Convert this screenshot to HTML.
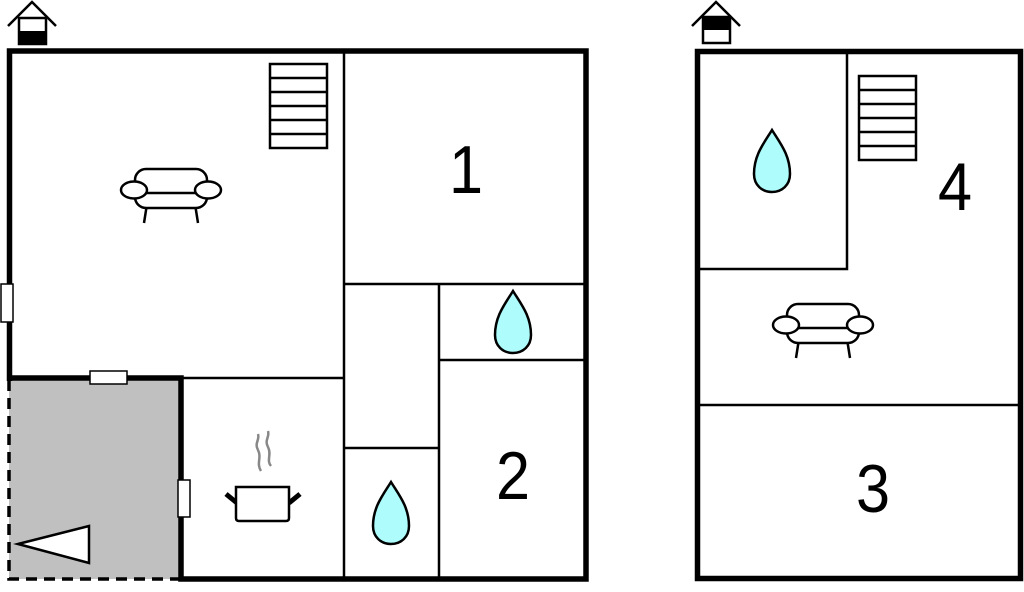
<!DOCTYPE html>
<html><head><meta charset="utf-8"><style>html,body{margin:0;padding:0;background:#fff}svg{display:block}</style></head><body>
<svg width="1024" height="592" viewBox="0 0 1024 592" xmlns="http://www.w3.org/2000/svg">
<defs>
<g id="sofa" fill="#fff" stroke="#000" stroke-width="2.5">
<path d="M-24,14 L-27,33 M24,14 L27,33" fill="none"/>
<rect x="-36" y="-4" width="72" height="22" rx="11"/>
<rect x="-36" y="-21" width="72" height="24" rx="11"/>
<ellipse cx="-37" cy="0" rx="13" ry="8.5"/>
<ellipse cx="37" cy="0" rx="13" ry="8.5"/>
</g>
<g id="drop"><path d="M0,-31 C-8,-18 -18,-6 -18,13 C-18,24 -10,31 0,31 C10,31 18,24 18,13 C18,-6 8,-18 0,-31 Z" fill="#aefcfc" stroke="#000" stroke-width="2.5"/></g>
<g id="stairs" fill="#fff" stroke="#000" stroke-width="2.5">
<rect x="0" y="0" width="57" height="84"/>
<path d="M0,14 H57 M0,28 H57 M0,42 H57 M0,56 H57 M0,70 H57"/>
</g>
</defs>

<rect x="9" y="379" width="172" height="200" fill="#c0c0c0"/>
<path d="M9,380 V579 H181" fill="none" stroke="#000" stroke-width="3.5" stroke-dasharray="11,7"/>
<g fill="none" stroke="#000" stroke-width="2.5">
<path d="M344,51 V579"/>
<path d="M344,284 H586"/>
<path d="M439,284 V579"/>
<path d="M439,360 H586"/>
<path d="M344,448 H439"/>
<path d="M181,378 H344"/>
</g>
<g fill="none" stroke="#000" stroke-width="5.5">
<path d="M9.5,381 V51 H586 V579 H181 V378 H7"/>
</g>
<rect x="1" y="284" width="12" height="38" fill="#fff" stroke="#000" stroke-width="1.5"/>
<rect x="90" y="371" width="37" height="13" fill="#fff" stroke="#000" stroke-width="1.5"/>
<rect x="178" y="480" width="12" height="37" fill="#fff" stroke="#000" stroke-width="1.5"/>
<polygon points="18,544 89,526 89,563" fill="#fff" stroke="#000" stroke-width="2.5"/>

<use href="#stairs" x="270" y="64"/>
<use href="#sofa" x="171" y="190"/>
<use href="#drop" x="391" y="513"/>
<use href="#drop" x="513" y="322"/>

<g stroke="#000" fill="none">
<path d="M258,450 C254,443 260,440 258,434 M258,450 C262,458 256,463 261,471" stroke="#888" stroke-width="2.5"/>
<path d="M268,447 C264,440 270,437 268,431 M268,447 C272,455 266,460 271,466" stroke="#888" stroke-width="2.5"/>
<path d="M226,494 L237,503 M300,494 L289,503" stroke-width="5"/>
<path d="M236,487 H289 V518 Q289,521 286,521 H239 Q236,521 236,518 Z" fill="#fff" stroke-width="2.5"/>
</g>

<g font-family="Liberation Sans, sans-serif" font-size="68" text-anchor="middle" fill="#000">
<text x="466" y="193" transform="translate(466 193) scale(0.9 1) translate(-466 -193)">1</text>
<text x="513" y="499" transform="translate(513 499) scale(0.9 1) translate(-513 -499)">2</text>
<text x="955" y="210" transform="translate(955 210) scale(0.9 1) translate(-955 -210)">4</text>
<text x="873" y="512" transform="translate(873 512) scale(0.9 1) translate(-873 -512)">3</text>
</g>

<g stroke="#000" fill="none" stroke-width="2.5">
<path d="M8,26 L32,2 L56,26"/>
<path d="M692,26 L716,2 L740,26"/>
</g>
<rect x="19" y="18" width="27" height="26" fill="#fff" stroke="#000" stroke-width="2.5"/>
<rect x="19" y="31" width="27" height="13" fill="#000"/>
<rect x="703" y="17" width="27" height="26" fill="#fff" stroke="#000" stroke-width="2.5"/>
<rect x="703" y="17" width="27" height="13" fill="#000"/>

<g fill="none" stroke="#000" stroke-width="2.5">
<path d="M847,51 V269 H697"/>
<path d="M697,405 H1020"/>
</g>
<rect x="697.5" y="51.5" width="323" height="527" fill="none" stroke="#000" stroke-width="5.5"/>
<use href="#stairs" x="859" y="76"/>
<use href="#sofa" x="823" y="325"/>
<use href="#drop" x="772" y="161"/>
</svg>
</body></html>
